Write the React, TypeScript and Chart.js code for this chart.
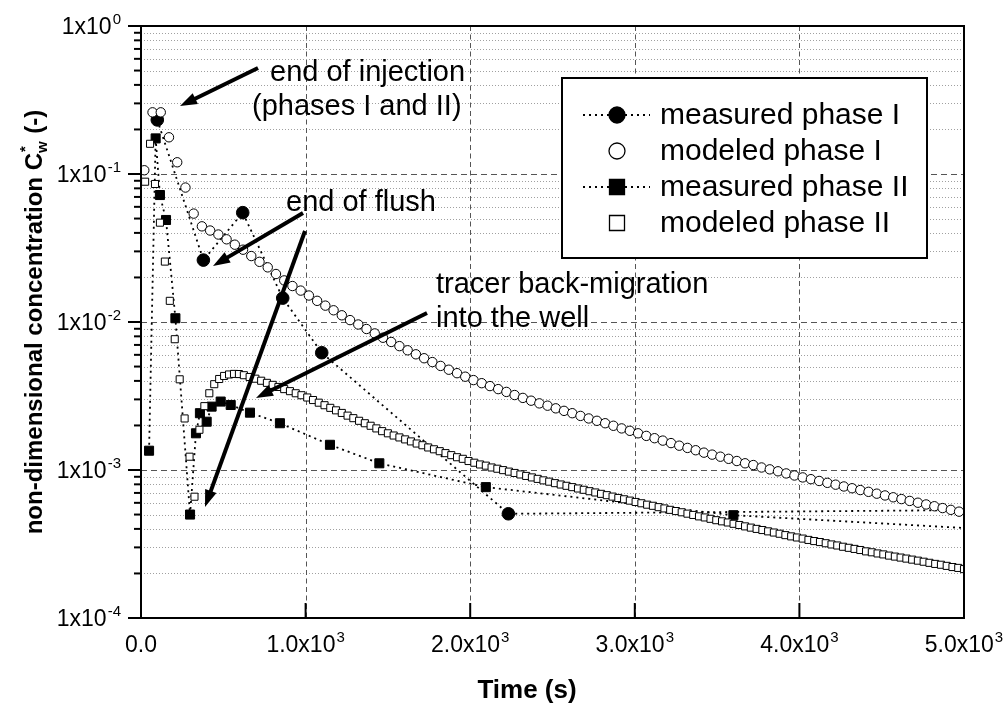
import React, { useEffect, useRef } from 'react';
import { Chart, registerables } from 'chart.js';

Chart.register(...registerables);

// ---------------- data ----------------
const measuredTimeI = [99, 379, 618, 861, 1098, 2232, 6000];
const measuredConcI = [0.232, 0.0262, 0.0548, 0.0145, 0.0062, 0.000506, 0.000547];

const measuredTimeII = [49, 89, 115, 152, 209, 298, 334, 358, 399, 429, 484, 545, 662, 844, 1148, 1448, 2095, 3599, 6000];
const measuredConcII = [0.00135, 0.174, 0.0721, 0.0489, 0.0106, 0.0005, 0.00177, 0.00242, 0.00212, 0.00268, 0.0029, 0.00275, 0.00244, 0.00207, 0.00148, 0.00111, 0.000766, 0.000495, 0.000352];

const modeledTimeI = [20, 70, 120, 170, 220, 270, 320, 370, 420, 470, 520, 570, 620, 670, 720, 770, 820, 870, 920, 970,
  1020, 1070, 1120, 1170, 1220, 1270, 1320, 1370, 1420, 1470, 1520, 1570, 1620, 1670, 1720, 1770, 1820, 1870, 1920, 1970,
  2020, 2070, 2120, 2170, 2220, 2270, 2320, 2370, 2420, 2470, 2520, 2570, 2620, 2670, 2720, 2770, 2820, 2870, 2920, 2970,
  3020, 3070, 3120, 3170, 3220, 3270, 3320, 3370, 3420, 3470, 3520, 3570, 3620, 3670, 3720, 3770, 3820, 3870, 3920, 3970,
  4020, 4070, 4120, 4170, 4220, 4270, 4320, 4370, 4420, 4470, 4520, 4570, 4620, 4670, 4720, 4770, 4820, 4870, 4920, 4970];
const modeledConcI = [0.106, 0.261, 0.261, 0.177, 0.12, 0.081, 0.054, 0.0443, 0.0415, 0.039,
  0.0362, 0.0333, 0.0308, 0.0279, 0.0255, 0.0234, 0.0211, 0.0191, 0.0175, 0.0163,
  0.0151, 0.0139, 0.0129, 0.012, 0.0111, 0.0103, 0.00962, 0.00897, 0.00837, 0.00783,
  0.00733, 0.00687, 0.00644, 0.00605, 0.00569, 0.00536, 0.00505, 0.00476, 0.00451, 0.00427,
  0.00405, 0.00386, 0.00369, 0.00352, 0.00337, 0.00321, 0.00307, 0.00294, 0.00282, 0.00272,
  0.00261, 0.00251, 0.00242, 0.00232, 0.00223, 0.00215, 0.00207, 0.00199, 0.00191, 0.00184,
  0.00177, 0.0017, 0.00164, 0.00158, 0.00152, 0.00146, 0.00141, 0.00136, 0.00131, 0.00127,
  0.00123, 0.00119, 0.00115, 0.00111, 0.00108, 0.00104, 0.00101, 0.00098, 0.000948, 0.000918,
  0.000891, 0.000867, 0.000843, 0.000819, 0.000796, 0.000774, 0.000753, 0.000732, 0.000712, 0.000692,
  0.000673, 0.000654, 0.000636, 0.000618, 0.000601, 0.000585, 0.000569, 0.000553, 0.000538, 0.000523];

const modeledTimeII = [25, 55, 85, 115, 145, 175, 205, 235, 265, 295, 325, 355, 385, 415, 445, 475, 505, 535, 565, 595, 625,
  660, 695, 730, 765, 800, 835, 870, 905, 940, 975, 1010, 1045, 1080, 1115, 1150, 1185, 1220, 1255, 1290, 1325,
  1360, 1395, 1430, 1465, 1500, 1535, 1570, 1605, 1640, 1675, 1710, 1745, 1780, 1815, 1850, 1885, 1920, 1955, 1990, 2025,
  2060, 2095, 2130, 2165, 2200, 2235, 2270, 2305, 2340, 2375, 2410, 2445, 2480, 2515, 2550, 2585, 2620, 2655, 2690, 2725,
  2760, 2795, 2830, 2865, 2900, 2935, 2970, 3005, 3040, 3075, 3110, 3145, 3180, 3215, 3250, 3285, 3320, 3355, 3390, 3425,
  3460, 3495, 3530, 3565, 3600, 3635, 3670, 3705, 3740, 3775, 3810, 3845, 3880, 3915, 3950, 3985, 4020, 4055, 4090, 4125,
  4160, 4195, 4230, 4265, 4300, 4335, 4370, 4405, 4440, 4475, 4510, 4545, 4580, 4615, 4650, 4685, 4720, 4755, 4790, 4825,
  4860, 4895, 4930, 4965, 5000];
const modeledConcII = [0.0887, 0.16, 0.0856, 0.0469, 0.0256, 0.0139, 0.00765, 0.0041, 0.00223, 0.00123, 0.00066, 0.00187, 0.0027, 0.0033, 0.0038, 0.00412, 0.00432, 0.00442, 0.00446, 0.00445, 0.00437,
  0.00425, 0.00414, 0.00401, 0.00388, 0.00376, 0.00364, 0.00352, 0.00341, 0.0033, 0.0032, 0.00309, 0.00297, 0.00285, 0.00274, 0.00263, 0.00253, 0.00243, 0.00233, 0.00224, 0.00215,
  0.00207, 0.00199, 0.00191, 0.00183, 0.00177, 0.00171, 0.00166, 0.00161, 0.00156, 0.00151, 0.00147, 0.00142, 0.00138, 0.00134, 0.0013, 0.00126, 0.00122, 0.00119, 0.00115, 0.00112,
  0.00109, 0.00107, 0.00104, 0.00102, 0.000998, 0.000975, 0.000955, 0.000933, 0.000912, 0.000891, 0.000871, 0.000851, 0.000834, 0.000815, 0.000798, 0.000782, 0.000766, 0.00075, 0.000735, 0.000719,
  0.000705, 0.00069, 0.000676, 0.000661, 0.000647, 0.000634, 0.000621, 0.000608, 0.000596, 0.000583, 0.000573, 0.000561, 0.00055, 0.000538, 0.000528, 0.000518, 0.000507, 0.000497, 0.000486, 0.000478,
  0.000468, 0.000458, 0.00045, 0.000442, 0.000433, 0.000425, 0.000416, 0.000408, 0.0004, 0.000393, 0.000385, 0.000378, 0.000371, 0.000363, 0.000356, 0.00035, 0.000344, 0.000337, 0.000331, 0.000326,
  0.00032, 0.000314, 0.000309, 0.000303, 0.000298, 0.000293, 0.000288, 0.000282, 0.000278, 0.000273, 0.000269, 0.000264, 0.00026, 0.000256, 0.000252, 0.000248, 0.000244, 0.00024, 0.000236, 0.000232,
  0.000229, 0.000225, 0.000221, 0.000218, 0.000214];

const seriesNames = ['measured phase I', 'modeled phase I', 'measured phase II', 'modeled phase II'];

const xTickValues = [0, 1000, 2000, 3000, 4000, 5000];
const xTickBase = ['0.0', '1.0x10', '2.0x10', '3.0x10', '4.0x10', '5.0x10'];
const xTickExp = ['', '3', '3', '3', '3', '3'];
const yTickExponents = [0, -1, -2, -3, -4];

const xTitle = 'Time (s)';
const yTitleMain = 'non-dimensional concentration C';
const yTitleSub = 'w';
const yTitleSup = '*';
const yTitleEnd = ' (-)';

const notes = [
  { lines: ['end of injection', '(phases I and II)'] },
  { lines: ['end of flush'] },
  { lines: ['tracer back-migration', 'into the well'] },
];

// ---------------- drawing helpers ----------------
const FONT = '"Liberation Sans", Arial, Helvetica, sans-serif';

function toPoints(xs: number[], ys: number[]) {
  return xs.map((x, i) => ({ x, y: ys[i] }));
}

function arrow(ctx: CanvasRenderingContext2D, x1: number, y1: number, x2: number, y2: number) {
  const ang = Math.atan2(y2 - y1, x2 - x1);
  const headLen = 17;
  const headHalf = 6;
  const bx = x2 - headLen * Math.cos(ang);
  const by = y2 - headLen * Math.sin(ang);
  ctx.save();
  ctx.strokeStyle = '#000';
  ctx.fillStyle = '#000';
  ctx.lineWidth = 4;
  ctx.setLineDash([]);
  ctx.lineCap = 'butt';
  ctx.beginPath();
  ctx.moveTo(x1, y1);
  ctx.lineTo(bx + 2 * Math.cos(ang), by + 2 * Math.sin(ang));
  ctx.stroke();
  ctx.beginPath();
  ctx.moveTo(x2, y2);
  ctx.lineTo(bx + headHalf * Math.sin(ang), by - headHalf * Math.cos(ang));
  ctx.lineTo(bx - headHalf * Math.sin(ang), by + headHalf * Math.cos(ang));
  ctx.closePath();
  ctx.fill();
  ctx.restore();
}

const decorPlugin = {
  id: 'decor',
  beforeDatasetsDraw(chart: any) {
    const { ctx, chartArea: a, scales } = chart;
    const xs = scales.x;
    const ys = scales.y;
    ctx.save();
    ctx.lineWidth = 1;
    // minor horizontal grid (dotted)
    ctx.strokeStyle = '#a0a0a0';
    ctx.setLineDash([1, 2]);
    for (let d = -4; d < 0; d++) {
      for (let m = 2; m <= 9; m++) {
        const py = Math.round(ys.getPixelForValue(m * Math.pow(10, d))) + 0.5;
        ctx.beginPath();
        ctx.moveTo(a.left, py);
        ctx.lineTo(a.right, py);
        ctx.stroke();
      }
    }
    // major horizontal grid (dashed)
    ctx.strokeStyle = '#555';
    ctx.setLineDash([6, 4]);
    for (const e of [-1, -2, -3]) {
      const py = Math.round(ys.getPixelForValue(Math.pow(10, e))) + 0.5;
      ctx.beginPath();
      ctx.moveTo(a.left, py);
      ctx.lineTo(a.right, py);
      ctx.stroke();
    }
    // vertical grid (dashed)
    ctx.setLineDash([5, 3.5]);
    for (const v of xTickValues.slice(1, -1)) {
      const px = Math.round(xs.getPixelForValue(v)) + 0.5;
      ctx.beginPath();
      ctx.moveTo(px, a.top);
      ctx.lineTo(px, a.bottom);
      ctx.stroke();
    }
    ctx.restore();
  },
  afterDatasetsDraw(chart: any) {
    const { ctx, chartArea: a, scales } = chart;
    const xs = scales.x;
    const ys = scales.y;
    ctx.save();
    ctx.setLineDash([]);
    ctx.strokeStyle = '#000';
    ctx.fillStyle = '#000';

    // frame
    ctx.lineWidth = 2;
    ctx.strokeRect(a.left, a.top, a.right - a.left, a.bottom - a.top);

    // y ticks (outward)
    for (let d = -4; d <= 0; d++) {
      const py = ys.getPixelForValue(Math.pow(10, d));
      ctx.beginPath();
      ctx.moveTo(a.left - 13, py);
      ctx.lineTo(a.left, py);
      ctx.stroke();
      if (d < 0) {
        for (let m = 2; m <= 9; m++) {
          const pm = ys.getPixelForValue(m * Math.pow(10, d));
          ctx.beginPath();
          ctx.moveTo(a.left - 7, pm);
          ctx.lineTo(a.left, pm);
          ctx.stroke();
        }
      }
    }
    // x ticks (inward)
    for (const v of xTickValues) {
      const px = xs.getPixelForValue(v);
      ctx.beginPath();
      ctx.moveTo(px, a.bottom);
      ctx.lineTo(px, a.bottom - 15);
      ctx.stroke();
    }

    // y tick labels
    const baseFont = `23px ${FONT}`;
    const supFont = `15px ${FONT}`;
    ctx.textBaseline = 'alphabetic';
    for (const e of yTickExponents) {
      const py = ys.getPixelForValue(Math.pow(10, e));
      const base = '1x10';
      const sup = String(e);
      ctx.font = supFont;
      const ws = ctx.measureText(sup).width;
      ctx.font = baseFont;
      const wb = ctx.measureText(base).width;
      const right = 121;
      ctx.textAlign = 'left';
      ctx.fillText(base, right - ws - 1 - wb, py + 8);
      ctx.font = supFont;
      ctx.fillText(sup, right - ws, py - 2);
    }
    // x tick labels
    xTickValues.forEach((v, i) => {
      const px = xs.getPixelForValue(v);
      const base = xTickBase[i];
      const sup = xTickExp[i];
      ctx.font = supFont;
      const ws = sup ? ctx.measureText(sup).width + 1 : 0;
      ctx.font = baseFont;
      const wb = ctx.measureText(base).width;
      const start = px - (wb + ws) / 2;
      ctx.textAlign = 'left';
      ctx.fillText(base, start, 652);
      if (sup) {
        ctx.font = supFont;
        ctx.fillText(sup, start + wb + 1, 642);
      }
    });

    // axis titles
    ctx.font = `bold 26px ${FONT}`;
    ctx.textAlign = 'center';
    ctx.fillText(xTitle, 527, 698);

    ctx.save();
    ctx.translate(42, (a.top + a.bottom) / 2);
    ctx.rotate(-Math.PI / 2);
    const tf = `bold 24px ${FONT}`;
    const sf = `bold 15px ${FONT}`;
    ctx.font = tf;
    const w1 = ctx.measureText(yTitleMain).width;
    const w3 = ctx.measureText(yTitleEnd).width;
    ctx.font = sf;
    const w2 = Math.max(ctx.measureText(yTitleSub).width, ctx.measureText(yTitleSup).width) + 1;
    const total = w1 + w2 + w3;
    let cx = -total / 2;
    ctx.textAlign = 'left';
    ctx.font = tf;
    ctx.fillText(yTitleMain, cx, 0);
    cx += w1;
    ctx.font = sf;
    ctx.fillText(yTitleSub, cx, 5);
    ctx.fillText(yTitleSup, cx + 1, -12);
    cx += w2;
    ctx.font = tf;
    ctx.fillText(yTitleEnd, cx, 0);
    ctx.restore();

    // annotations
    ctx.font = `29px ${FONT}`;
    ctx.textAlign = 'left';
    ctx.fillStyle = '#000';
    ctx.fillText(notes[0].lines[0], 270, 81);
    ctx.fillText(notes[0].lines[1], 252, 115);
    ctx.fillText(notes[1].lines[0], 286, 211);
    ctx.fillText(notes[2].lines[0], 436, 293);
    ctx.fillText(notes[2].lines[1], 436, 327);

    arrow(ctx, 258, 68, 180, 106);
    arrow(ctx, 303, 213, 213, 266);
    arrow(ctx, 305, 231, 205, 507);
    arrow(ctx, 427, 313, 256, 398);

    // legend
    const lx = 562, ly = 78, lw = 365, lh = 180;
    ctx.fillStyle = '#fff';
    ctx.fillRect(lx, ly, lw, lh);
    ctx.strokeStyle = '#000';
    ctx.lineWidth = 2;
    ctx.strokeRect(lx, ly, lw, lh);
    const rowY = [115, 151, 187, 223];
    const symX = 617;
    seriesNames.forEach((name, i) => {
      const y = rowY[i];
      const measured = i % 2 === 0;
      if (measured) {
        ctx.save();
        ctx.strokeStyle = '#000';
        ctx.lineWidth = 2;
        ctx.setLineDash([2, 4]);
        ctx.beginPath();
        ctx.moveTo(583, y);
        ctx.lineTo(650, y);
        ctx.stroke();
        ctx.restore();
      }
      ctx.lineWidth = 1.3;
      ctx.strokeStyle = '#000';
      ctx.fillStyle = measured ? '#000' : '#fff';
      ctx.beginPath();
      if (i < 2) {
        ctx.arc(symX, y, 8, 0, Math.PI * 2);
      } else {
        ctx.rect(symX - 7.5, y - 7.5, 15, 15);
      }
      ctx.fill();
      ctx.stroke();
      ctx.fillStyle = '#000';
      ctx.font = `30px ${FONT}`;
      ctx.textBaseline = 'middle';
      ctx.fillText(name, 660, y + 1);
      ctx.textBaseline = 'alphabetic';
    });

    ctx.restore();
  },
};

export default function App() {
  const ref = useRef<HTMLCanvasElement | null>(null);

  useEffect(() => {
    if (!ref.current) return;
    const chart = new Chart(ref.current, {
      type: 'scatter',
      data: {
        datasets: [
          {
            label: seriesNames[0],
            data: toPoints(measuredTimeI, measuredConcI),
            showLine: true,
            borderColor: '#000',
            borderWidth: 1.8,
            borderDash: [2, 4],
            pointStyle: 'circle',
            pointRadius: 6.3,
            pointBackgroundColor: '#000',
            pointBorderColor: '#000',
            pointBorderWidth: 1,
            order: 4,
          },
          {
            label: seriesNames[1],
            data: toPoints(modeledTimeI, modeledConcI),
            showLine: false,
            pointStyle: 'circle',
            pointRadius: 4.7,
            pointBackgroundColor: '#fff',
            pointBorderColor: '#000',
            pointBorderWidth: 1,
            order: 3,
          },
          {
            label: seriesNames[2],
            data: toPoints(measuredTimeII, measuredConcII),
            showLine: true,
            borderColor: '#000',
            borderWidth: 1.8,
            borderDash: [2, 4],
            pointStyle: 'rect',
            pointRadius: 6.4,
            pointBackgroundColor: '#000',
            pointBorderColor: '#000',
            pointBorderWidth: 1,
            order: 2,
          },
          {
            label: seriesNames[3],
            data: toPoints(modeledTimeII, modeledConcII),
            showLine: false,
            pointStyle: 'rect',
            pointRadius: 5,
            pointBackgroundColor: '#fff',
            pointBorderColor: '#000',
            pointBorderWidth: 1,
            order: 1,
          },
        ],
      },
      options: {
        animation: false,
        responsive: false,
        devicePixelRatio: 1,
        events: [],
        layout: { padding: { left: 141, right: 43, top: 26, bottom: 93 } },
        plugins: { legend: { display: false }, tooltip: { enabled: false } },
        scales: {
          x: { type: 'linear', min: 0, max: 5000, display: false },
          y: { type: 'logarithmic', min: 1e-4, max: 1, display: false },
        },
      },
      plugins: [decorPlugin],
    } as any);
    return () => chart.destroy();
  }, []);

  return (
    <div style={{ position: 'fixed', left: 0, top: 0, width: 1007, height: 711, background: '#fff' }}>
      <canvas ref={ref} width={1007} height={711} style={{ display: 'block', width: 1007, height: 711 }} />
    </div>
  );
}
